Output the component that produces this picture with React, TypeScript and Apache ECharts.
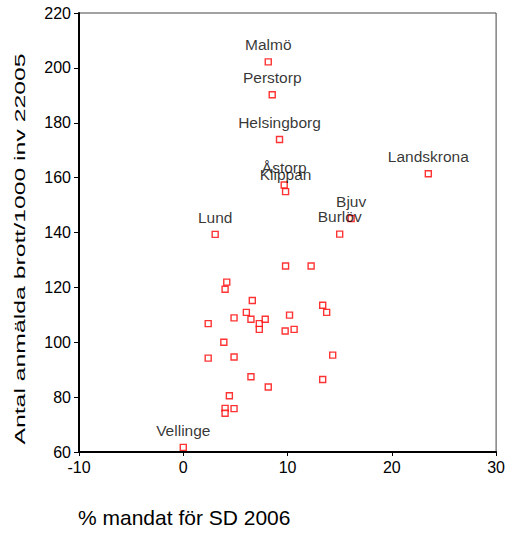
import React, { useEffect, useRef } from "react";
import * as echarts from "echarts";

const labeledNames = ["Malmö", "Perstorp", "Helsingborg", "Åstorp", "Klippan", "Landskrona", "Bjuv", "Burlöv", "Lund", "Vellinge"];
const labeledX = [8.15, 8.53, 9.23, 9.68, 9.81, 23.5, 16.1, 15.0, 3.06, 0];
const labeledY = [202.2, 190.2, 173.9, 157.3, 154.9, 161.4, 145.1, 139.4, 139.3, 61.7];

const otherX = [4.17, 4.01, 2.39, 4.87, 6.62, 6.05, 6.49, 3.89, 2.39, 4.87, 6.49, 4.42, 4.01, 4.01, 4.87, 9.81, 12.26, 7.29, 7.86, 7.29, 9.77, 10.63, 10.19, 13.37, 13.75, 14.33, 8.15, 13.37];
const otherY = [121.9, 119.3, 106.8, 108.9, 115.2, 110.9, 108.4, 100.0, 94.2, 94.6, 87.4, 80.5, 75.9, 74.1, 75.8, 127.8, 127.8, 106.8, 108.4, 104.7, 104.1, 104.7, 109.9, 113.5, 110.9, 95.3, 83.7, 86.4];

const xTitle = "% mandat för SD 2006";
const yTitle = "Antal anmälda brott/1000 inv 22005";

const FONT = "Liberation Sans, Arial, sans-serif";

export default function App() {
  const ref = useRef<HTMLDivElement>(null);
  useEffect(() => {
    if (!ref.current) return;
    const chart = echarts.init(ref.current, undefined, { renderer: "svg" });
    const markerStyle = { color: "#ffffff", borderColor: "#ff0000", borderWidth: 1.4 };
    chart.setOption({
      animation: false,
      backgroundColor: "#ffffff",
      grid: { left: 79, top: 13, right: 10, bottom: 82, show: true, borderColor: "#444", borderWidth: 1 },
      xAxis: {
        type: "value",
        min: -10,
        max: 30,
        interval: 10,
        axisLine: { show: true, onZero: false, lineStyle: { color: "#000", width: 2 } },
        axisTick: { show: true, length: 4, lineStyle: { color: "#000", width: 1 } },
        axisLabel: { color: "#000", fontSize: 16, fontFamily: FONT, margin: 7 },
        splitLine: { show: false },
      },
      yAxis: {
        type: "value",
        min: 60,
        max: 220,
        interval: 20,
        axisLine: { show: true, onZero: false, lineStyle: { color: "#000", width: 2 } },
        axisTick: { show: true, length: 5, lineStyle: { color: "#000", width: 1 } },
        axisLabel: { color: "#000", fontSize: 16, fontFamily: FONT, margin: 8 },
        splitLine: { show: false },
      },
      graphic: [
        {
          type: "text",
          x: 19,
          y: 249,
          rotation: Math.PI / 2,
          scaleX: 1.6,
          style: { text: yTitle, font: `15.5px ${FONT}`, fill: "#000", textAlign: "center", textVerticalAlign: "middle" },
        },
        {
          type: "text",
          x: 78,
          y: 517,
          style: { text: xTitle, font: `21px ${FONT}`, fill: "#000", textAlign: "left", textVerticalAlign: "middle" },
        },
      ],
      series: [
        {
          type: "scatter",
          symbol: "rect",
          symbolSize: 6,
          itemStyle: markerStyle,
          data: otherX.map((x, i) => [x, otherY[i]]),
        },
        {
          type: "scatter",
          symbol: "rect",
          symbolSize: 6,
          itemStyle: markerStyle,
          label: {
            show: true,
            position: "top",
            distance: 5.5,
            color: "#000",
            fontSize: 15.5,
            fontFamily: FONT,
            lineHeight: 16,
            formatter: (p: any) => p.name,
          },
          data: labeledNames.map((n, i) => ({ name: n, value: [labeledX[i], labeledY[i]] })),
        },
      ],
    });
    return () => chart.dispose();
  }, []);
  return <div ref={ref} style={{ position: "fixed", left: 0, top: 0, width: 508, height: 534 }} />;
}
